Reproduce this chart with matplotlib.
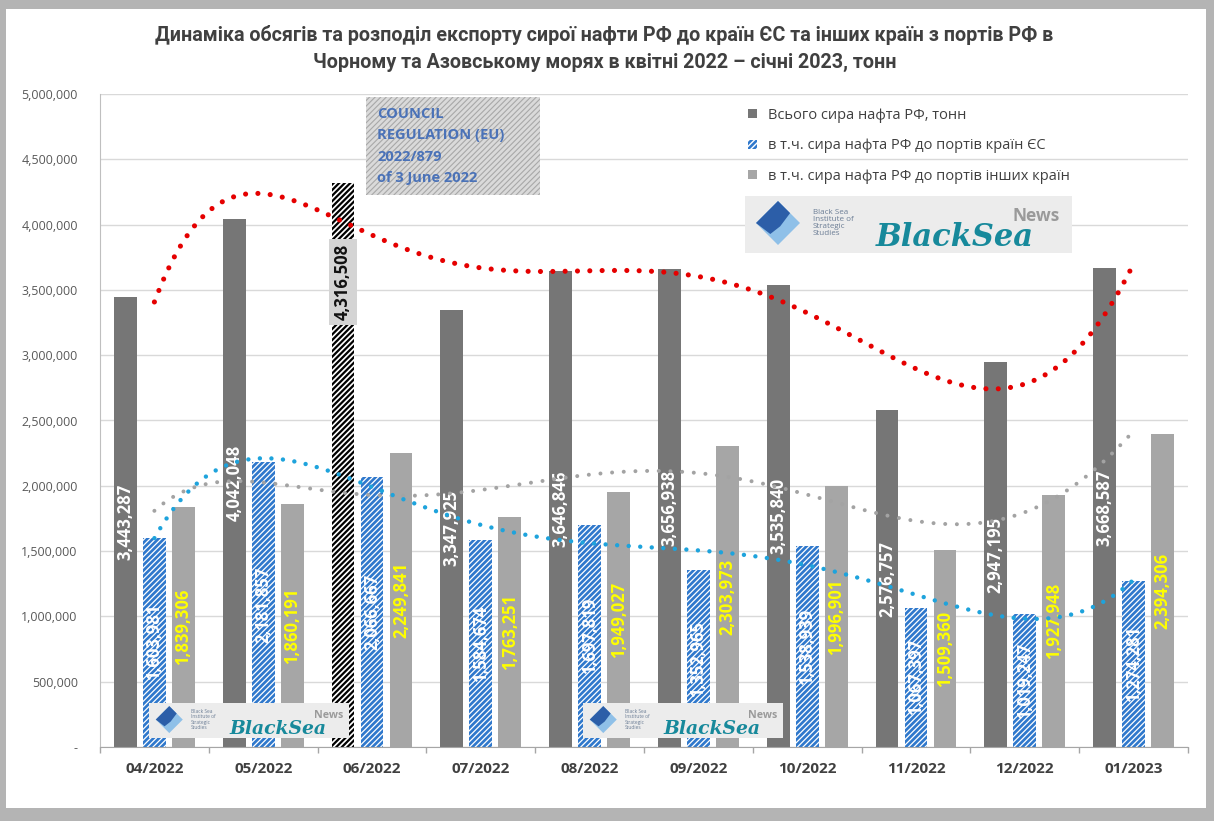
import numpy as np
import matplotlib
matplotlib.use("Agg")
import matplotlib.pyplot as plt
from matplotlib.patches import Rectangle, Polygon
from matplotlib.ticker import FuncFormatter, FixedLocator

# ---------------- data ----------------
months = ["04/2022", "05/2022", "06/2022", "07/2022", "08/2022",
          "09/2022", "10/2022", "11/2022", "12/2022", "01/2023"]
total = [3443287, 4042048, 4316508, 3347925, 3646846,
         3656938, 3535840, 2576757, 2947195, 3668587]
eu = [1603981, 2181857, 2066667, 1584674, 1697819,
      1352965, 1538939, 1067397, 1019247, 1274281]
other = [1839306, 1860191, 2249841, 1763251, 1949027,
         2303973, 1996901, 1509360, 1927948, 2394306]
legend_labels = ["Всього сира нафта РФ, тонн",
                 "в т.ч. сира нафта РФ до портів країн ЄС",
                 "в т.ч. сира нафта РФ до портів інших країн"]
title_lines = ["Динаміка обсягів та розподіл експорту сирої нафти РФ до країн ЄС та інших країн з портів РФ в",
               "Чорному та Азовському морях в квітні 2022 – січні 2023, тонн"]
note_lines = ["COUNCIL", "REGULATION (EU)", "2022/879", "of 3 June 2022"]
highlight_idx = 2

W, H = 1214, 821
plt.rcParams['font.family'] = ['Open Sans', 'DejaVu Sans']

fig = plt.figure(figsize=(W / 100, H / 100), dpi=100)
fig.patch.set_facecolor('#b4b4b4')


def fx(px):
    return px / W


def fy(py):
    return 1 - py / H


# white card
fig.patches.append(Rectangle((fx(6), fy(808)), fx(1206) - fx(6), fy(9) - fy(808),
                             transform=fig.transFigure, facecolor='white',
                             edgecolor='none', zorder=-10))

ax = fig.add_axes([fx(100), fy(747), fx(1188) - fx(100), fy(94) - fy(747)])
ax.set_facecolor('none')

x = np.arange(len(months))
bw = 0.21
off = 0.266

c_total = '#767676'
c_eu = '#2f78cc'
c_other = '#a6a6a6'

bars_total = ax.bar(x - off, total, bw, color=c_total, zorder=2, label=legend_labels[0])
bars_eu = ax.bar(x, eu, bw, facecolor=c_eu, edgecolor='white', hatch='//////',
                 linewidth=0, zorder=2, label=legend_labels[1])
bars_other = ax.bar(x + off, other, bw, color=c_other, zorder=2, label=legend_labels[2])

for b in bars_eu:
    try:
        b.set_hatch_linewidth(0.9)
    except AttributeError:
        pass

# highlighted June bar
hb = bars_total[highlight_idx]
hb.set_facecolor('white')
hb.set_edgecolor('black')
hb.set_hatch('//////')
hb.set_linewidth(0)
try:
    hb.set_hatch_linewidth(1.6)
except AttributeError:
    pass

# value labels
fmt = lambda v: f"{v:,.0f}"
lab_kw = dict(rotation=90, ha='center', va='center', fontsize=12, fontweight='bold', zorder=3)
for i in range(len(months)):
    if i == highlight_idx:
        ax.text(x[i] - off, 3.56e6, fmt(total[i]), color='#111111',
                bbox=dict(boxstyle='square,pad=0.3', fc='#d4d4d4', ec='none'), **lab_kw)
    else:
        ax.text(x[i] - off, total[i] / 2, fmt(total[i]), color='white', **lab_kw)
    ax.text(x[i], eu[i] / 2, fmt(eu[i]), color='white', **lab_kw)
    ax.text(x[i] + off, other[i] / 2, fmt(other[i]), color='#ffff00', **lab_kw)

# polynomial trendlines (Excel-style, order 6)
xs = np.linspace(0, len(months) - 1, 300)
for series, col, lw, gap in [(other, '#a3a3a3', 2.9, 2.9),
                              (eu, '#1ea3dc', 3.2, 2.6),
                              (total, '#e50000', 3.7, 2.4)]:
    coef = np.polyfit(x, np.array(series, dtype=float), 6)
    ax.plot(xs, np.polyval(coef, xs), color=col, lw=lw, linestyle=(0, (0.001, gap)),
            dash_capstyle='round', zorder=4)

# axes styling
ax.set_xlim(-0.5, len(months) - 0.5)
ax.set_ylim(0, 5e6)
ax.set_yticks(np.arange(0, 5.01e6, 5e5))
ax.yaxis.set_major_formatter(FuncFormatter(lambda v, p: '-' if v == 0 else f"{v:,.0f}"))
ax.tick_params(axis='y', length=0, pad=16, labelsize=9, labelcolor='#595959')
ax.set_xticks(x)
ax.set_xticklabels(months, fontweight='bold', fontsize=11, color='#404040')
ax.xaxis.set_minor_locator(FixedLocator(np.arange(-0.5, len(months), 1.0)))
ax.tick_params(axis='x', which='major', length=0, pad=11)
ax.tick_params(axis='x', which='minor', length=4, color='#a6a6a6', width=1)
ax.grid(axis='y', color='#d9d9d9', lw=1)
ax.set_axisbelow(True)
for s in ['top', 'right']:
    ax.spines[s].set_visible(False)
ax.spines['left'].set_color('#bfbfbf')
ax.spines['bottom'].set_color('#a6a6a6')

# legend
leg = ax.legend(handles=[bars_total, bars_eu, bars_other], labels=legend_labels,
                loc='upper left', bbox_to_anchor=(fx(748), fy(108)),
                bbox_transform=fig.transFigure, frameon=False, fontsize=10.5,
                handlelength=0.6, handleheight=0.6, handletextpad=0.75,
                labelspacing=1.05, borderpad=0, borderaxespad=0)
for t in leg.get_texts():
    t.set_color('#404040')

# title (two lines, fitted to the reference width)
t1 = fig.text(0.498, fy(35), title_lines[0], ha='center', va='center', fontsize=15,
              fontweight='bold', color='#404040', family=['Roboto', 'DejaVu Sans'])
t2 = fig.text(0.498, fy(62), title_lines[1], ha='center', va='center', fontsize=15,
              fontweight='bold', color='#404040', family=['Roboto', 'DejaVu Sans'])
fig.canvas.draw()
tw = t1.get_window_extent().width
if tw > 905:
    f = 15 * 905 / tw
    t1.set_fontsize(f)
    t2.set_fontsize(f)

# note box
nb = Rectangle((fx(366), fy(195)), fx(540) - fx(366), fy(97) - fy(195),
               transform=fig.transFigure, facecolor='#dadada', edgecolor='#a8a8a8',
               hatch='//////', linewidth=0, zorder=5)
fig.patches.append(nb)
try:
    nb.set_hatch_linewidth(0.8)
except AttributeError:
    pass
for k, line in enumerate(note_lines):
    fig.text(fx(377), fy(114 + k * 21.3), line, ha='left', va='center', fontsize=10.5,
             fontweight='bold', color='#4a72b8', zorder=6)


# logos
def draw_logo(px0, py0, px1, py1):
    w, h = px1 - px0, py1 - py0
    s = h / 57.0
    la = fig.add_axes([fx(px0), fy(py1), fx(px1) - fx(px0), fy(py0) - fy(py1)])
    la.set_xlim(0, w)
    la.set_ylim(h, 0)
    la.axis('off')
    la.add_patch(Rectangle((0, 0), w, h, facecolor='#ececec', edgecolor='none'))
    cx, cy, r = 33 * s, 27 * s, 22 * s
    la.add_patch(Polygon([(cx - r, cy), (cx, cy - r), (cx + r, cy), (cx, cy + r)],
                         closed=True, facecolor='#8fc0e8', edgecolor='none'))
    la.add_patch(Polygon([(cx - r, cy), (cx, cy - r), (cx + r * 0.55, cy - r * 0.45),
                          (cx + r * 0.1, cy + r * 0.15), (cx - r * 0.35, cy + r * 0.5)],
                         closed=True, facecolor='#2c5ea8', edgecolor='none'))
    la.text(68 * s, 27 * s, "Black Sea\nInstitute of\nStrategic\nStudies", ha='left',
            va='center', fontsize=5.8 * s, color='#6b7d95', linespacing=1.05)
    la.text(131 * s, 50 * s, "BlackSea", ha='left', va='baseline', fontsize=22 * s,
            fontstyle='italic', fontweight='bold', color='#17899b',
            family=['DejaVu Serif'])
    la.text(268 * s, 25 * s, "News", ha='left', va='baseline', fontsize=12.5 * s,
            fontweight='bold', color='#9a9a9a')


draw_logo(745, 196, 1072, 253)
draw_logo(149, 703, 349, 738)
draw_logo(583, 703, 783, 738)

fig.savefig('out.png', dpi=100, facecolor=fig.get_facecolor())
